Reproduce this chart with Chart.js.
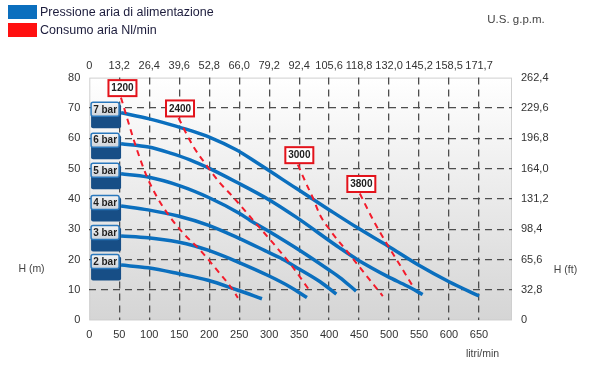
<!DOCTYPE html>
<html lang="it">
<head>
<meta charset="UTF-8">
<title>Curve caratteristiche pompa</title>
<script src="https://cdn.jsdelivr.net/npm/chart.js"></script>
<style>
  body { margin: 0; background: #ffffff; }
  canvas { display: block; }
</style>
</head>
<body>
<canvas id="grafico" width="600" height="390"></canvas>
<script>
// assi
const flowTicks = [0, 50, 100, 150, 200, 250, 300, 350, 400, 450, 500, 550, 600, 650];
const gpmLabels = ['0', '13,2', '26,4', '39,6', '52,8', '66,0', '79,2', '92,4', '105,6', '118,8', '132,0', '145,2', '158,5', '171,7'];
const headTicks = [0, 10, 20, 30, 40, 50, 60, 70, 80];
const ftLabels = ['0', '32,8', '65,6', '98,4', '131,2', '164,0', '196,8', '229,6', '262,4'];

// curve pressione aria (portata l/min, prevalenza m)
const bar2Flow = [53, 98, 148, 198, 248, 288];
const bar2Head = [18.2, 17.3, 15.4, 13.2, 9.9, 7.1];
const bar3Flow = [53, 98, 148, 176, 198, 248, 300, 335, 363];
const bar3Head = [27.8, 27.2, 25.8, 24.5, 23.1, 19.2, 14.6, 11.0, 7.5];
const bar4Flow = [53, 98, 148, 198, 248, 300, 318, 350, 385, 412];
const bar4Head = [37.7, 36.4, 34.4, 31.4, 27.2, 22.3, 20.6, 16.9, 12.7, 8.6];
const bar5Flow = [53, 96, 150, 200, 250, 268, 300, 350, 400, 418, 445];
const bar5Head = [48.3, 47.3, 44.4, 40.4, 35.3, 33, 29.3, 23.2, 16.6, 14.1, 9.6];
const bar6Flow = [53, 99, 134, 168, 201, 245, 301, 345, 418, 448, 498, 530, 556];
const bar6Head = [58.2, 57.1, 55.2, 52.9, 50, 45.6, 39.6, 34, 23.8, 19.9, 14.4, 11.3, 8.5];
const bar7Flow = [53, 100, 134, 168, 201, 245, 279, 345, 401, 448, 498, 549, 600, 650];
const bar7Head = [68.4, 66.4, 64.6, 62.6, 60.3, 56.2, 52, 43.5, 36.3, 30.4, 24.5, 18.2, 12.7, 8];

// curve consumo aria Nl/min
const c1200Flow = [52.8, 79.5, 96.2, 112.8, 134.5, 156.2, 184.5, 212.8, 239.5, 247.8];
const c1200Head = [73.4, 56.2, 47.3, 40.7, 34.1, 28.8, 23.2, 16.6, 10, 7.4];
const c2400Flow = [148.8, 172.8, 196.2, 217.8, 239.5, 272.8, 306.2, 337.8, 367.8];
const c2400Head = [66.7, 57.5, 50.9, 45.3, 40.7, 33.1, 25.5, 17.9, 9.7];
const c3000Flow = [347.8, 361.2, 372.8, 384.5, 401.2, 434.5, 467.8, 489.5];
const c3000Head = [51.3, 45.3, 40.4, 34.8, 29.8, 21.6, 13.3, 8];
const c3800Flow = [451.2, 473.3, 495.7, 517.8, 541.2];
const c3800Head = [41.8, 33.1, 25.4, 18.3, 10.7];

const pressureNames = ['2 bar', '3 bar', '4 bar', '5 bar', '6 bar', '7 bar'];
const consumptionNames = ['1200', '2400', '3000', '3800'];

const BLUE = '#0b6fbe';
const RED = '#f41c2c';
const FONT = "'Liberation Sans', Arial, sans-serif";

function toPoints(xs, ys) {
    return xs.map((x, i) => ({ x: x, y: ys[i] }));
}

const pressureSeries = [
    [bar2Flow, bar2Head], [bar3Flow, bar3Head], [bar4Flow, bar4Head],
    [bar5Flow, bar5Head], [bar6Flow, bar6Head], [bar7Flow, bar7Head]
];
const consumptionSeries = [
    [c1200Flow, c1200Head], [c2400Flow, c2400Head], [c3000Flow, c3000Head], [c3800Flow, c3800Head]
];

const datasets = [];
consumptionSeries.forEach((s, i) => {
    datasets.push({
        label: consumptionNames[i],
        tag: 'flow',
        data: toPoints(s[0], s[1]),
        borderColor: RED,
        borderWidth: 2,
        borderDash: [6, 5],
        pointRadius: 0,
        cubicInterpolationMode: 'monotone',
        fill: false
    });
});
pressureSeries.forEach((s, i) => {
    datasets.push({
        label: pressureNames[i],
        tag: 'bar',
        data: toPoints(s[0], s[1]),
        borderColor: BLUE,
        borderWidth: 3.5,
        borderCapStyle: 'butt',
        pointRadius: 0,
        cubicInterpolationMode: 'monotone',
        fill: false
    });
});

function hideEdges(ctx) {
    const v = ctx.tick.value;
    return (v === 0 || v === 80) ? 'rgba(0,0,0,0)' : '#4d4d4d';
}

const sfondo = {
    id: 'sfondo',
    beforeDraw(chart) {
        const ctx = chart.ctx;
        const a = chart.chartArea;
        ctx.save();
        ctx.fillStyle = '#ffffff';
        ctx.fillRect(0, 0, chart.width, chart.height);
        const g = ctx.createLinearGradient(0, a.top, 0, a.bottom);
        g.addColorStop(0, '#ffffff');
        g.addColorStop(1, '#d5d5d5');
        ctx.fillStyle = g;
        ctx.fillRect(a.left, a.top, a.right - a.left, a.bottom - a.top);
        ctx.strokeStyle = '#cfcfcf';
        ctx.lineWidth = 1;
        ctx.strokeRect(a.left + 0.5, a.top + 0.5, a.right - a.left - 1, a.bottom - a.top - 1);
        ctx.restore();
    }
};

function drawBarTag(ctx, px, py, text) {
    const w = 28, h = 14;
    const fx = px - 30, fy = py - 10.5;
    ctx.fillStyle = '#174e86';
    ctx.beginPath();
    ctx.roundRect(fx, fy + 2, w + 2, h + 10, 2);
    ctx.fill();
    const g = ctx.createLinearGradient(0, fy, 0, fy + h);
    g.addColorStop(0, '#f4f4f4');
    g.addColorStop(1, '#cdd3da');
    ctx.fillStyle = g;
    ctx.beginPath();
    ctx.roundRect(fx, fy, w, h, 2);
    ctx.fill();
    ctx.strokeStyle = '#2a78bd';
    ctx.lineWidth = 1.5;
    ctx.stroke();
    ctx.fillStyle = '#1e1e1e';
    ctx.font = 'bold 10px ' + FONT;
    ctx.textAlign = 'center';
    ctx.textBaseline = 'middle';
    ctx.fillText(text, fx + w / 2, fy + h / 2 + 0.5);
}

function drawFlowTag(ctx, px, py, text) {
    const w = 28, h = 16;
    const cx = px + 1.5, cy = py - 9.5;
    ctx.fillStyle = '#ffffff';
    ctx.fillRect(cx - w / 2, cy - h / 2, w, h);
    ctx.strokeStyle = '#e3131b';
    ctx.lineWidth = 2;
    ctx.strokeRect(cx - w / 2, cy - h / 2, w, h);
    ctx.fillStyle = '#222222';
    ctx.font = 'bold 10px ' + FONT;
    ctx.textAlign = 'center';
    ctx.textBaseline = 'middle';
    ctx.fillText(text, cx, cy + 0.5);
}

const etichette = {
    id: 'etichette',
    afterDatasetsDraw(chart) {
        const ctx = chart.ctx;
        ctx.save();
        chart.data.datasets.forEach((ds, i) => {
            const pt = chart.getDatasetMeta(i).data[0];
            if (ds.tag === 'bar') drawBarTag(ctx, pt.x, pt.y, ds.label);
            else drawFlowTag(ctx, pt.x, pt.y, ds.label);
        });
        ctx.restore();
    }
};

const testi = {
    id: 'testi',
    afterDraw(chart) {
        const ctx = chart.ctx;
        ctx.save();
        // legenda
        ctx.fillStyle = BLUE;
        ctx.fillRect(8, 5, 29, 14);
        ctx.fillStyle = '#ff1010';
        ctx.fillRect(8, 23, 29, 14);
        ctx.fillStyle = '#1c1c3c';
        ctx.font = '12.5px ' + FONT;
        ctx.textAlign = 'left';
        ctx.textBaseline = 'middle';
        ctx.fillText('Pressione aria di alimentazione', 40, 13);
        ctx.fillText('Consumo aria Nl/min', 40, 31);
        // titoli assi
        ctx.fillStyle = '#444444';
        ctx.font = '10.5px ' + FONT;
        ctx.textAlign = 'center';
        ctx.fillText('H (m)', 31.5, 269);
        ctx.fillText('H (ft)', 565.5, 270);
        ctx.fillText('litri/min', 482.5, 354);
        ctx.font = '11.5px ' + FONT;
        ctx.fillText('U.S. g.p.m.', 516, 20);
        ctx.restore();
    }
};

const tickFont = { family: FONT, size: 11 };

new Chart(document.getElementById('grafico'), {
    type: 'line',
    data: { datasets: datasets },
    options: {
        responsive: false,
        animation: false,
        devicePixelRatio: 1,
        layout: { padding: 0 },
        plugins: {
            legend: { display: false },
            tooltip: { enabled: false }
        },
        scales: {
            x: {
                type: 'linear',
                position: 'bottom',
                min: 0,
                max: 705,
                afterBuildTicks: s => { s.ticks = flowTicks.map(v => ({ value: v })); },
                afterFit: s => { s.height = 69.7; },
                ticks: { color: '#333', font: tickFont, padding: 8, maxRotation: 0, autoSkip: false },
                grid: { color: hideEdges, lineWidth: 1.3, drawTicks: false },
                border: { display: false, dash: [7, 5] }
            },
            x2: {
                type: 'linear',
                position: 'top',
                min: 0,
                max: 705,
                afterBuildTicks: s => { s.ticks = flowTicks.map(v => ({ value: v })); },
                afterFit: s => { s.height = 77.6; },
                ticks: {
                    color: '#333', font: tickFont, padding: 5, maxRotation: 0, autoSkip: false,
                    callback: (v, i) => gpmLabels[i]
                },
                grid: { display: false, drawTicks: false },
                border: { display: false }
            },
            y: {
                position: 'left',
                min: 0,
                max: 80,
                afterBuildTicks: s => { s.ticks = headTicks.map(v => ({ value: v })); },
                afterFit: s => { s.width = 89.3; },
                ticks: { color: '#333', font: tickFont, padding: 9 },
                grid: { color: hideEdges, lineWidth: 1.3, drawTicks: false },
                border: { display: false, dash: [7, 5] }
            },
            y2: {
                position: 'right',
                min: 0,
                max: 80,
                afterBuildTicks: s => { s.ticks = headTicks.map(v => ({ value: v })); },
                afterFit: s => { s.width = 88; },
                ticks: {
                    color: '#333', font: tickFont, padding: 9,
                    callback: (v, i) => ftLabels[i]
                },
                grid: { display: false, drawTicks: false },
                border: { display: false }
            }
        }
    },
    plugins: [sfondo, etichette, testi]
});
</script>
</body>
</html>
